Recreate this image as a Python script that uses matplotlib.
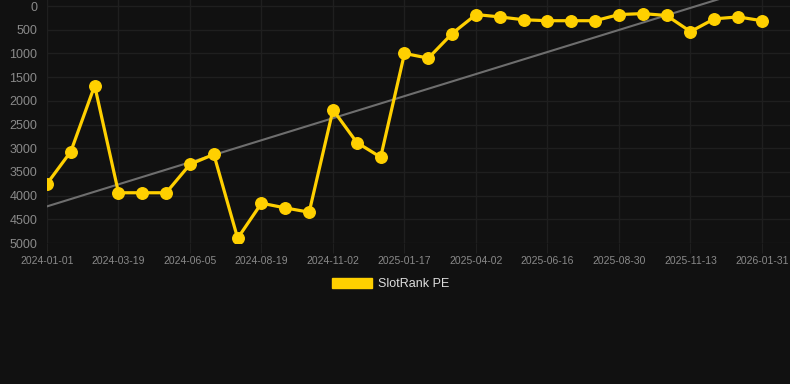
import numpy as np
import matplotlib
matplotlib.use("Agg")
import matplotlib.pyplot as plt
from matplotlib.patches import Patch

# rank values, one per snapshot (lower is better, axis reversed)
rank = [3750, 3070, 1680, 3940, 3940, 3940, 3340, 3130, 4900, 4160, 4260,
        4350, 2190, 2880, 3190, 1000, 1100, 580, 180, 230, 290, 310, 310,
        310, 180, 160, 200, 540, 270, 230, 310]
tick_labels = ["2024-01-01", "2024-03-19", "2024-06-05", "2024-08-19",
               "2024-11-02", "2025-01-17", "2025-04-02", "2025-06-16",
               "2025-08-30", "2025-11-13", "2026-01-31"]
y_ticks = [0, 500, 1000, 1500, 2000, 2500, 3000, 3500, 4000, 4500, 5000]

bg = "#111111"
grid_c = "#1f1f1f"
label_c = "#8a8a8a"
gold = "#ffd000"

plt.rcParams["font.family"] = ["Liberation Sans", "DejaVu Sans"]

fig = plt.figure(figsize=(7.9, 3.84), dpi=100, facecolor=bg)
ax = fig.add_axes([47 / 790, 1 - 243 / 384, 743 / 790, 243 / 384])
ax.set_facecolor(bg)

x = np.arange(len(rank))
# trend line (linear fit)
k, b = np.polyfit(x, rank, 1)
ax.plot(x, k * x + b, color="#6e6e6e", lw=1.5, zorder=2)

ax.plot(x, rank, color=gold, lw=2.3, marker="o", markersize=8.3,
        markerfacecolor=gold, markeredgecolor=gold, zorder=3)

ax.set_xlim(0, 31.175)
ax.set_ylim(5000, -127)
ax.set_xticks(x[::3])
ax.set_xticklabels(tick_labels)
ax.set_yticks(y_ticks)
ax.set_yticklabels([str(v) for v in y_ticks])

ax.grid(True, color=grid_c, lw=1)
ax.set_axisbelow(True)
for s in ax.spines.values():
    s.set_visible(False)
ax.tick_params(axis="x", length=7, color=grid_c, labelsize=7.5,
               labelcolor=label_c, pad=2)
ax.tick_params(axis="y", length=0, labelsize=9, labelcolor=label_c, pad=7)

fig.legend(handles=[Patch(facecolor=gold, edgecolor=gold)],
           labels=["SlotRank PE"], loc="center",
           bbox_to_anchor=(0.494, 1 - 284 / 384), frameon=False,
           fontsize=9, labelcolor="#dddddd", handlelength=3.2,
           handleheight=0.95, handletextpad=0.5)

fig.savefig("out.png", dpi=100, facecolor=bg)
